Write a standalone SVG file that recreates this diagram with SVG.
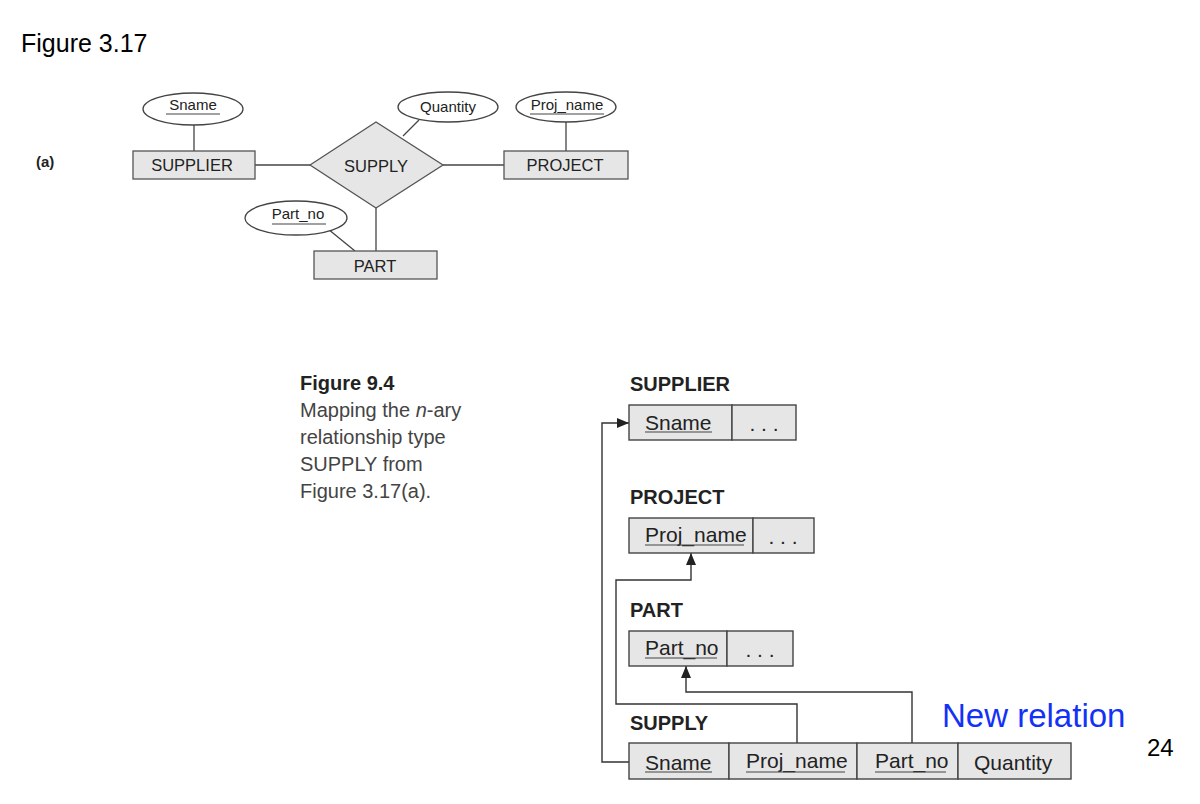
<svg xmlns="http://www.w3.org/2000/svg" width="1200" height="804" viewBox="0 0 1200 804">
<style>
text{font-family:"Liberation Sans",Arial,Helvetica,sans-serif;}
.ent{fill:#e6e6e6;stroke:#555;stroke-width:1.3;}
.att{fill:#fff;stroke:#444;stroke-width:1.3;}
.ln{fill:none;stroke:#444;stroke-width:1.3;}
.t16{font-size:16.5px;fill:#222;}
.t15{font-size:15px;fill:#222;}
.ul{stroke:#444;stroke-width:1.2;}
.cell{fill:#e6e6e6;stroke:#444;stroke-width:1.4;}
.ct{font-size:21px;fill:#222;}
.rh{font-size:20px;font-weight:bold;fill:#222;}
.cap{font-size:20px;fill:#444;}
.conn{fill:none;stroke:#333;stroke-width:1.4;}
</style>
<defs>
<marker id="ah" viewBox="0 0 12 10" refX="12" refY="5" markerWidth="12" markerHeight="10" markerUnits="userSpaceOnUse" orient="auto">
<path d="M0,0 L12,5 L0,10 Z" fill="#222"/>
</marker>
</defs>
<rect width="1200" height="804" fill="#fff"/>

<text x="21" y="52" font-size="25" fill="#000">Figure 3.17</text>
<text x="36" y="167" font-size="15" font-weight="bold" fill="#222">(a)</text>

<!-- ER connectors -->
<g id="er-connectors">
<line class="ln" x1="194" y1="125" x2="194" y2="151"/>
<line class="ln" x1="255" y1="165" x2="310" y2="165"/>
<line class="ln" x1="443" y1="165" x2="504" y2="165"/>
<line class="ln" x1="566" y1="122" x2="566" y2="151"/>
<line class="ln" x1="419" y1="120" x2="403" y2="136"/>
<line class="ln" x1="376" y1="208" x2="376" y2="251"/>
<line class="ln" x1="328" y1="229" x2="355" y2="251"/>
</g>

<g id="er-sname">
<ellipse class="att" cx="193" cy="109" rx="50" ry="16"/>
<text class="t15" x="193" y="110" text-anchor="middle">Sname</text>
<line class="ul" x1="166" y1="114" x2="220" y2="114"/>
</g>
<g id="er-supplier">
<rect class="ent" x="133" y="151" width="122" height="28"/>
<text class="t16" x="192" y="171" text-anchor="middle">SUPPLIER</text>
</g>
<g id="er-supply">
<polygon class="ent" points="310,165 376,122 443,165 376,208"/>
<text class="t16" x="376" y="172" text-anchor="middle">SUPPLY</text>
</g>
<g id="er-quantity">
<ellipse class="att" cx="448" cy="107" rx="50" ry="15"/>
<text class="t15" x="448" y="112" text-anchor="middle">Quantity</text>
</g>
<g id="er-projname">
<ellipse class="att" cx="566" cy="107" rx="50" ry="15"/>
<text class="t15" x="567" y="110" text-anchor="middle">Proj_name</text>
<line class="ul" x1="530" y1="114" x2="604" y2="114"/>
</g>
<g id="er-project">
<rect class="ent" x="504" y="151" width="124" height="28"/>
<text class="t16" x="565" y="171" text-anchor="middle">PROJECT</text>
</g>
<g id="er-partno">
<ellipse class="att" cx="296" cy="218" rx="51" ry="17"/>
<text class="t15" x="298" y="219" text-anchor="middle">Part_no</text>
<line class="ul" x1="272" y1="224" x2="326" y2="224"/>
</g>
<g id="er-part">
<rect class="ent" x="314" y="251" width="123" height="28"/>
<text class="t16" x="375" y="272" text-anchor="middle">PART</text>
</g>

<!-- Figure 9.4 caption -->
<g id="caption">
<text x="300" y="390" font-size="20" font-weight="bold" fill="#222">Figure 9.4</text>
<text class="cap" x="300" y="417">Mapping the <tspan font-style="italic">n</tspan>-ary</text>
<text class="cap" x="300" y="444">relationship type</text>
<text class="cap" x="300" y="471">SUPPLY from</text>
<text class="cap" x="300" y="498">Figure 3.17(a).</text>
</g>

<!-- Relational schema connectors -->
<g id="rel-connectors">
<polyline class="conn" points="629,762 602,762 602,423 629,423" marker-end="url(#ah)"/>
<polyline class="conn" points="797,743 797,704 616,704 616,580 691,580 691,553" marker-end="url(#ah)"/>
<polyline class="conn" points="912,743 912,692 686,692 686,666" marker-end="url(#ah)"/>
</g>

<g id="rel-supplier">
<text class="rh" x="630" y="391">SUPPLIER</text>
<rect class="cell" x="629" y="405" width="103" height="35"/>
<rect class="cell" x="732" y="405" width="64" height="35"/>
<text class="ct" x="645" y="430">Sname</text>
<line class="ul" x1="645" y1="432" x2="712" y2="432"/>
<text class="ct" x="764" y="431" text-anchor="middle">. . .</text>
</g>
<g id="rel-project">
<text class="rh" x="630" y="504">PROJECT</text>
<rect class="cell" x="629" y="518" width="124" height="35"/>
<rect class="cell" x="753" y="518" width="61" height="35"/>
<text class="ct" x="645" y="542">Proj_name</text>
<line class="ul" x1="645" y1="545" x2="744" y2="545"/>
<text class="ct" x="783" y="544" text-anchor="middle">. . .</text>
</g>
<g id="rel-part">
<text class="rh" x="630" y="617">PART</text>
<rect class="cell" x="629" y="631" width="98" height="35"/>
<rect class="cell" x="727" y="631" width="66" height="35"/>
<text class="ct" x="645" y="655">Part_no</text>
<line class="ul" x1="645" y1="658" x2="717" y2="658"/>
<text class="ct" x="760" y="657" text-anchor="middle">. . .</text>
</g>
<g id="rel-supply">
<text class="rh" x="630" y="730">SUPPLY</text>
<rect class="cell" x="629" y="743" width="100" height="36"/>
<rect class="cell" x="729" y="743" width="128" height="36"/>
<rect class="cell" x="857" y="743" width="101" height="36"/>
<rect class="cell" x="958" y="743" width="113" height="36"/>
<text class="ct" x="645" y="770">Sname</text>
<line class="ul" x1="645" y1="772" x2="712" y2="772"/>
<text class="ct" x="746" y="768">Proj_name</text>
<line class="ul" x1="746" y1="772" x2="845" y2="772"/>
<text class="ct" x="875" y="768">Part_no</text>
<line class="ul" x1="875" y1="772" x2="946" y2="772"/>
<text class="ct" x="974" y="770">Quantity</text>
</g>

<text x="942" y="727" font-size="33" fill="#1432f5">New relation</text>
<text x="1147" y="756" font-size="24" fill="#000">24</text>
</svg>
